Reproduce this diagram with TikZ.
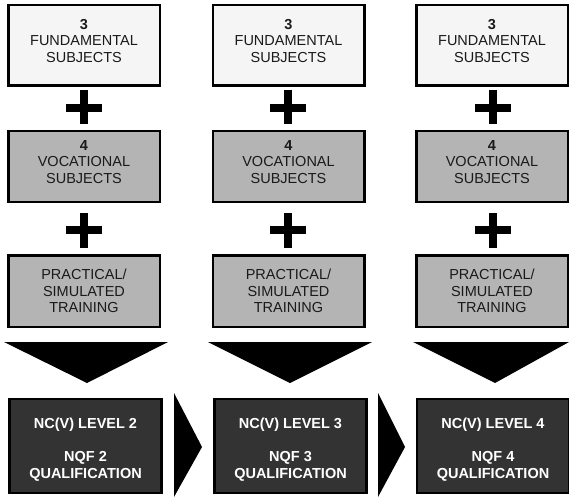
\documentclass[tikz,border=0pt]{standalone}
\usepackage{fontspec}
\setmainfont{Liberation Sans}

\definecolor{paleGrey}{RGB}{245,245,245}
\definecolor{midGrey}{RGB}{180,180,180}
\definecolor{darkGrey}{RGB}{51,51,51}

\tikzset{every picture/.style={line width=0.5pt}}
\tikzset{
  subjbox/.style={draw=black, line width=2.5, fill=#1, minimum width=151.5pt, align=center, inner sep=0pt, outer sep=0pt, font=\fontsize{14.5}{16.5}\selectfont, text={rgb,255:red,26;green,26;blue,26}},
  qualbox/.style={draw=black, line width=2.5, fill=darkGrey, minimum width=152pt, minimum height=94pt, align=center, inner sep=0pt, outer sep=0pt, font=\fontsize{14.5}{16.5}\selectfont\bfseries, text=white, text height=67.4pt, text depth=3pt},
  plusbar/.style={line width=7.5, draw=black}
}

\begin{document}
\begin{tikzpicture}[x=1pt,y=1pt,yscale=-1,xscale=1]
\useasboundingbox (0,0) rectangle (569,497);

%Shape: Rectangle [id:fund1]
\node [subjbox=paleGrey, minimum height=80.5pt, text height=36.4pt, text depth=3pt] (fund1) at (84,45.5) {\textbf{3}\\FUNDAMENTAL\\SUBJECTS};
%Shape: Rectangle [id:fund2]
\node [subjbox=paleGrey, minimum height=80.5pt, text height=36.4pt, text depth=3pt] (fund2) at (288.5,45.5) {\textbf{3}\\FUNDAMENTAL\\SUBJECTS};
%Shape: Rectangle [id:fund3]
\node [subjbox=paleGrey, minimum height=80.5pt, text height=36.4pt, text depth=3pt] (fund3) at (492,45.5) {\textbf{3}\\FUNDAMENTAL\\SUBJECTS};

%Shape: Rectangle [id:voc1]
\node [subjbox=midGrey, minimum height=70.5pt, text height=36.4pt, text depth=3pt] (voc1) at (84,166.5) {\textbf{4}\\VOCATIONAL\\SUBJECTS};
%Shape: Rectangle [id:voc2]
\node [subjbox=midGrey, minimum height=70.5pt, text height=36.4pt, text depth=3pt] (voc2) at (288.5,166.5) {\textbf{4}\\VOCATIONAL\\SUBJECTS};
%Shape: Rectangle [id:voc3]
\node [subjbox=midGrey, minimum height=70.5pt, text height=36.4pt, text depth=3pt] (voc3) at (492,166.5) {\textbf{4}\\VOCATIONAL\\SUBJECTS};

%Shape: Rectangle [id:prac1]
\node [subjbox=midGrey, minimum height=71.5pt] (prac1) at (84,291) {PRACTICAL/\\SIMULATED\\TRAINING};
%Shape: Rectangle [id:prac2]
\node [subjbox=midGrey, minimum height=71.5pt] (prac2) at (288.5,291) {PRACTICAL/\\SIMULATED\\TRAINING};
%Shape: Rectangle [id:prac3]
\node [subjbox=midGrey, minimum height=71.5pt] (prac3) at (492,291) {PRACTICAL/\\SIMULATED\\TRAINING};

%Shape: Rectangle [id:nqf1]
\node [qualbox] (nqf1) at (85.5,446) {NC(V) LEVEL 2\\[16.5pt]NQF 2\\QUALIFICATION};
%Shape: Rectangle [id:nqf2]
\node [qualbox] (nqf2) at (290.5,446) {NC(V) LEVEL 3\\[16.5pt]NQF 3\\QUALIFICATION};
%Shape: Rectangle [id:nqf3]
\node [qualbox] (nqf3) at (493,446) {NC(V) LEVEL 4\\[16.5pt]NQF 4\\QUALIFICATION};

%Plus signs
\draw [plusbar] (84,90) -- (84,124) (66,108) -- (102,108) ;
\draw [plusbar] (288,90) -- (288,124) (270,108) -- (306,108) ;
\draw [plusbar] (493,90) -- (493,124) (475,108) -- (511,108) ;
\draw [plusbar] (84,213) -- (84,248) (66,230) -- (102,230) ;
\draw [plusbar] (288,213) -- (288,248) (270,230) -- (306,230) ;
\draw [plusbar] (493,213) -- (493,248) (475,230) -- (511,230) ;

%Shape: Triangle (down)
\fill [black] (4,342) -- (168,342) -- (87,383) -- cycle ;
\fill [black] (208,342) -- (372,342) -- (290,383) -- cycle ;
\fill [black] (413,342) -- (569,342) -- (495,383) -- cycle ;

%Shape: Triangle (right)
\fill [black] (174,393) -- (202,447) -- (174,497) -- cycle ;
\fill [black] (378,393) -- (405,447) -- (378,497) -- cycle ;
\end{tikzpicture}
\end{document}
